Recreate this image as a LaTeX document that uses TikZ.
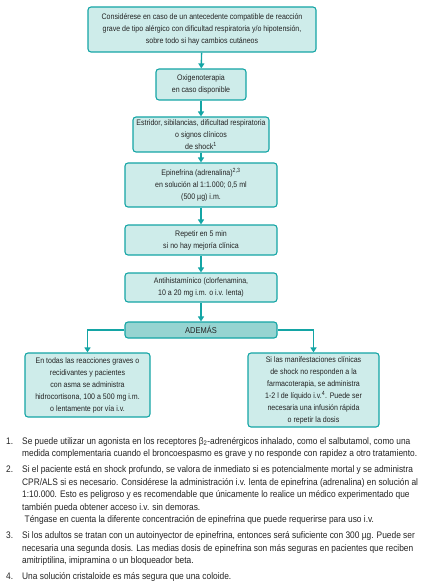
\documentclass[tikz,border=0pt]{standalone}
\usepackage{fontspec}
\setmainfont{Liberation Sans}[FakeStretch=0.88]
\usepackage[x11names, svgnames, rgb]{xcolor}
\usepackage{tikz}
\usetikzlibrary{arrows.meta, positioning, calc}
\definecolor{tealline}{RGB}{20,165,165}
\definecolor{tealfill}{RGB}{206,236,234}
\definecolor{tealdark}{RGB}{150,212,209}
\definecolor{inktext}{RGB}{35,35,35}
\tikzset{
  flowbox/.style={draw=tealline, fill=tealfill, line width=1.1pt, rounded corners=3pt,
    align=center, inner sep=1pt, text=inktext, font=\fontsize{8}{12}\selectfont},
  flowarrow/.style={draw=tealline, line width=1.4pt, ->},
  notetext/.style={anchor=north west, inner sep=0pt, align=left, text=inktext,
    font=\fontsize{9.5}{12.5}\selectfont},
}
\begin{document}
\begin{tikzpicture}[>={Triangle[length=5pt,width=6pt]}, x=1pt, y=-1pt]
        \useasboundingbox (0,0) rectangle (427,588);
        % flow chart
        \node[flowbox, minimum width=228pt, minimum height=45pt] (inicio) at (202,29.5)
          {Considérese en caso de un antecedente compatible de reacción\\
           grave de tipo alérgico con dificultad respiratoria y/o hipotensión,\\
           sobre todo si hay cambios cutáneos};
        \node[flowbox, minimum width=90pt, minimum height=31pt] (oxigeno) at (201,84.5)
          {Oxigenoterapia\\ en caso disponible};
        \node[flowbox, minimum width=136pt, minimum height=35pt] (estridor) at (201,134.5)
          {Estridor, sibilancias, dificultad respiratoria\\ o signos clínicos\\
           de shock\textsuperscript{1}};
        \node[flowbox, minimum width=152pt, minimum height=44pt] (epinefrina) at (201,185)
          {Epinefrina (adrenalina)\textsuperscript{2,3}\\ en solución al 1:1.000; 0,5 ml\\
           (500 µg) i.m.};
        \node[flowbox, minimum width=152pt, minimum height=30pt] (repetir) at (201,240)
          {Repetir en 5 min\\ si no hay mejoría clínica};
        \node[flowbox, minimum width=152pt, minimum height=29pt] (antihist) at (201,287.5)
          {Antihistamínico (clorfenamina,\\ 10 a 20 mg i.m. o i.v. lenta)};
        \node[flowbox, fill=tealdark, minimum width=152pt, minimum height=16pt,
          font=\fontsize{8.5}{12}\selectfont] (ademas) at (201,330) {ADEMÁS};
        \node[flowbox, minimum width=125pt, minimum height=64pt] (hidrocort) at (87.5,385)
          {En todas las reacciones graves o\\ recidivantes y pacientes\\
           con asma se administra\\ hidrocortisona, 100 a 500 mg i.m.\\
           o lentamente por vía i.v.};
        \node[flowbox, minimum width=131pt, minimum height=74pt] (liquido) at (313.5,390)
          {Si las manifestaciones clínicas\\ de shock no responden a la\\
           farmacoterapia, se administra\\ 1-2 l de líquido i.v.\textsuperscript{4}. Puede ser\\
           necesaria una infusión rápida\\ o repetir la dosis};

        \draw[flowarrow] (inicio) -- (oxigeno);
        \draw[flowarrow] (oxigeno) -- (estridor);
        \draw[flowarrow] (estridor) -- (epinefrina);
        \draw[flowarrow] (epinefrina) -- (repetir);
        \draw[flowarrow] (repetir) -- (antihist);
        \draw[flowarrow] (antihist) -- (ademas);
        \draw[flowarrow] (ademas.west) -| (hidrocort.north);
        \draw[flowarrow] (ademas.east) -| (liquido.north);

        % footnotes
        \node[notetext] (num1) at (6,435.25) {\strut 1.};
        \node[notetext] (nota1) at (22,435.25)
          {\strut Se puede utilizar un agonista en los receptores β\textsubscript{2}-adrenérgicos inhalado, como el salbutamol, como una\\
           medida complementaria cuando el broncoespasmo es grave y no responde con rapidez a otro tratamiento.};
        \node[notetext] (num2) at (6,463.75) {\strut 2.};
        \node[notetext] (nota2) at (22,463.75)
          {\strut Si el paciente está en shock profundo, se valora de inmediato si es potencialmente mortal y se administra\\
           CPR/ALS si es necesario. Considérese la administración i.v. lenta de epinefrina (adrenalina) en solución al\\
           1:10.000. Esto es peligroso y es recomendable que únicamente lo realice un médico experimentado que\\
           también pueda obtener acceso i.v. sin demoras.\\
           \hspace*{2.5pt}Téngase en cuenta la diferente concentración de epinefrina que puede requerirse para uso i.v.};
        \node[notetext] (num3) at (6,529.75) {\strut 3.};
        \node[notetext] (nota3) at (22,529.75)
          {\strut Si los adultos se tratan con un autoinyector de epinefrina, entonces será suficiente con 300 µg. Puede ser\\
           necesaria una segunda dosis. Las medias dosis de epinefrina son más seguras en pacientes que reciben\\
           amitriptilina, imipramina o un bloqueador beta.};
        \node[notetext] (num4) at (6,570.75) {\strut 4.};
        \node[notetext] (nota4) at (22,570.75) {\strut Una solución cristaloide es más segura que una coloide.};
      \end{tikzpicture}
\end{document}
